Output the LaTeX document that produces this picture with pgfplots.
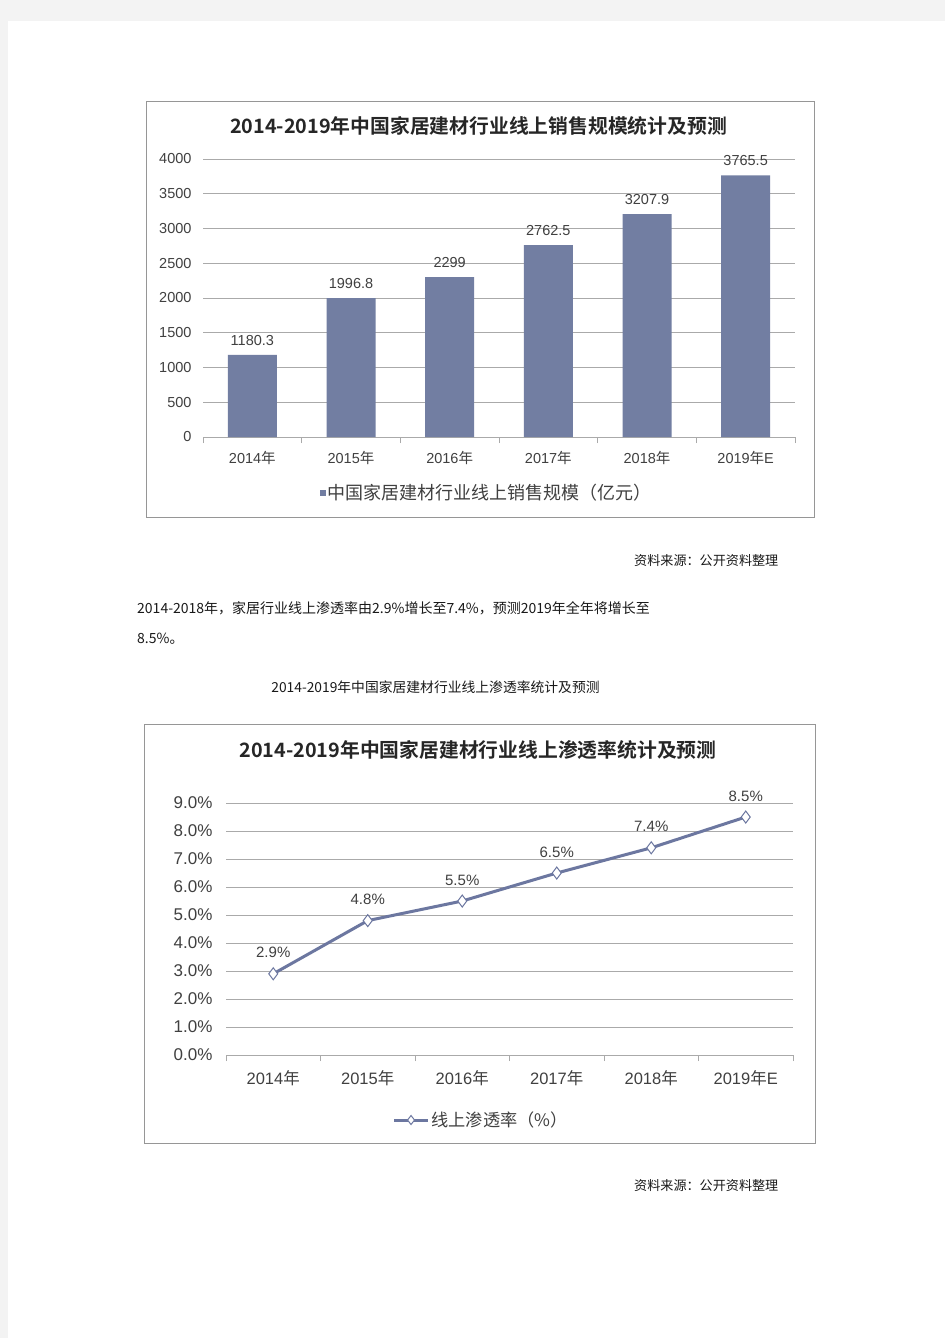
\documentclass[border=0pt]{standalone}
\usepackage{fontspec}
\usepackage{pgfplots}
\pgfplotsset{compat=1.18}
\setmainfont{Liberation Sans}
\newfontfamily\cjk{Noto Sans CJK SC}
\newfontfamily\cjkb{Noto Sans CJK SC Bold}
\definecolor{barc}{RGB}{114,126,162}
\definecolor{linec}{RGB}{108,119,160}
\definecolor{gridc}{RGB}{170,170,170}
\definecolor{txt}{RGB}{64,64,64}
\definecolor{pagebg}{RGB}{243,243,243}
\definecolor{framec}{RGB}{150,150,150}
\newcommand{\Y}[1]{#1{\cjk 年}}
\begin{document}
\begin{tikzpicture}[x=1pt,y=1pt]
\fill[pagebg] (0,0) rectangle (945,-1338);
\fill[white] (8,-21) rectangle (945,-1338);
\draw[framec] (146,-101) rectangle (814,-517);
\draw[framec] (144,-724) rectangle (815,-1143);
% titles
\node[inner sep=0,text=black!85] at (478.5,-126) {\cjkb\fontsize{19.8}{23}\selectfont 2014-2019年中国家居建材行业线上销售规模统计及预测};
\node[inner sep=0,text=black!85] at (478,-750) {\cjkb\fontsize{19.8}{24}\selectfont 2014-2019年中国家居建材行业线上渗透率统计及预测};
% page texts
\node[inner sep=0,anchor=west,text=black!90] at (634,-561) {\cjk\fontsize{13.1}{16}\selectfont 资料来源：公开资料整理};
\node[inner sep=0,anchor=west,text=black!90] at (634,-1186) {\cjk\fontsize{13.1}{16}\selectfont 资料来源：公开资料整理};
\node[inner sep=0,anchor=west,text=black!90] at (137,-608) {\cjk\fontsize{14}{16}\selectfont 2014-2018年，家居行业线上渗透率由2.9\%增长至7.4\%，预测2019年全年将增长至};
\node[inner sep=0,anchor=west,text=black!90] at (137,-639) {\cjk\fontsize{14}{16}\selectfont 8.5\%。};
\node[inner sep=0,text=black!90] at (435.5,-687) {\cjk\fontsize{13.8}{16}\selectfont 2014-2019年中国家居建材行业线上渗透率统计及预测};

% chart 1
\begin{axis}[
  at={(203pt,-437pt)}, anchor=south west,
  scale only axis, width=592pt, height=278pt,
  xmin=-0.5, xmax=5.5, ymin=0, ymax=4000,
  axis lines*=left,
  x axis line style={gridc, line width=1pt},
  y axis line style={draw=none},
  xtick={0,...,5},
  xticklabels={\Y{2014},\Y{2015},\Y{2016},\Y{2017},\Y{2018},{\Y{2019}E}},
  minor xtick={-0.5,0.5,...,5.5},
  major tick length=0pt, minor tick length=6pt,
  tick align=outside,
  minor tick style={gridc, line width=1pt},
  ytick={0,500,...,4000},
  ymajorgrids, grid style={gridc, line width=1pt},
  /pgf/number format/assume math mode=true,
  /pgf/number format/1000 sep={},
  ticklabel style={font=\fontsize{14.5}{17}\selectfont, text=txt},
  yticklabel style={xshift=-8pt},
  xticklabel style={yshift=-11pt},
  legend style={at={(0.479,-0.2014)}, anchor=center, draw=none, fill=none,
     font=\cjk\fontsize{18}{21}\selectfont, text=txt, inner sep=0pt},
  clip=false,
]
\addplot[ybar, bar width=49pt, fill=barc, draw=none,
  nodes near coords, point meta=explicit symbolic,
  every node near coord/.append style={font=\fontsize{14.5}{17}\selectfont, text=txt, yshift=6pt},
  legend image code/.code={\fill[barc] (0pt,-3pt) rectangle (6pt,3pt);}
] table[meta=lab] {
x y lab
0 1180.3 1180.3
1 1996.8 1996.8
2 2299 2299
3 2762.5 2762.5
4 3207.9 3207.9
5 3765.5 3765.5
};
\addlegendentry{中国家居建材行业线上销售规模（亿元）}
\end{axis}

% chart 2
\begin{axis}[
  at={(226pt,-1055pt)}, anchor=south west,
  scale only axis, width=567pt, height=252pt,
  xmin=-0.5, xmax=5.5, ymin=0, ymax=9,
  axis lines*=left,
  x axis line style={gridc, line width=1pt},
  y axis line style={draw=none},
  xtick={0,...,5},
  xticklabels={\Y{2014},\Y{2015},\Y{2016},\Y{2017},\Y{2018},{\Y{2019}E}},
  minor xtick={-0.5,0.5,...,5.5},
  major tick length=0pt, minor tick length=6pt,
  tick align=outside,
  minor tick style={gridc, line width=1pt},
  ytick={0,...,9},
  yticklabel={\pgfmathprintnumber[fixed,fixed zerofill,precision=1]{\tick}\%},
  ymajorgrids, grid style={gridc, line width=1pt},
  /pgf/number format/assume math mode=true,
  ticklabel style={font=\fontsize{16.5}{19}\selectfont, text=txt},
  yticklabel style={xshift=-10pt, font=\fontsize{17}{19}\selectfont},
  xticklabel style={yshift=-12pt},
  legend style={at={(0.45,-0.258)}, anchor=center, draw=none, fill=none,
     font=\cjk\fontsize{17.2}{20}\selectfont, text=txt, inner sep=0pt},
  clip=false,
]
\addplot[linec, line width=3pt, mark=diamond*,
  mark options={fill=white, draw=linec, line width=1pt, mark size=6pt},
  nodes near coords={\pgfmathprintnumber[fixed,fixed zerofill,precision=1]{\pgfplotspointmeta}\%},
  point meta=y,
  every node near coord/.append style={font=\fontsize{15}{18}\selectfont, text=txt, yshift=12pt},
  legend image code/.code={
    \draw[linec, line width=3pt] (0pt,0pt) -- (34pt,0pt);
    \path[fill=white, draw=linec, line width=1pt] (17pt,4.5pt) -- (20.5pt,0pt) -- (17pt,-4.5pt) -- (13.5pt,0pt) -- cycle;}
] table {
x y
0 2.9
1 4.8
2 5.5
3 6.5
4 7.4
5 8.5
};
\addlegendentry{线上渗透率（\%）}
\end{axis}
\end{tikzpicture}
\end{document}
